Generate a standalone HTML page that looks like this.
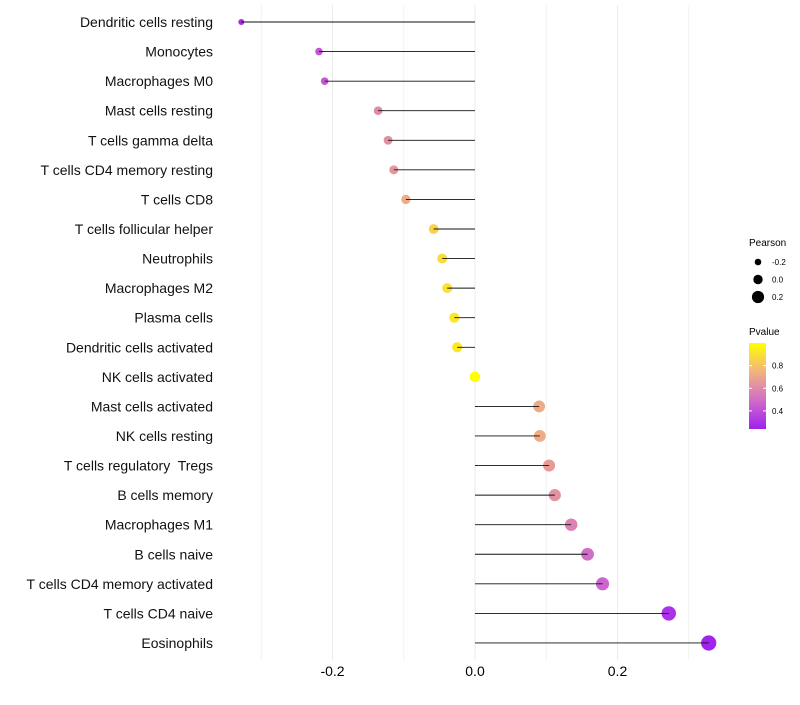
<!DOCTYPE html>
<html><head><meta charset="utf-8"><style>
body{margin:0;background:#fff;font-family:"Liberation Sans",sans-serif}
text{white-space:pre}
</style></head><body>
<svg id="c" width="800" height="700" xmlns="http://www.w3.org/2000/svg"></svg>
<script>
const categories=["Dendritic cells resting","Monocytes","Macrophages M0","Mast cells resting","T cells gamma delta","T cells CD4 memory resting","T cells CD8","T cells follicular helper","Neutrophils","Macrophages M2","Plasma cells","Dendritic cells activated","NK cells activated","Mast cells activated","NK cells resting","T cells regulatory  Tregs","B cells memory","Macrophages M1","B cells naive","T cells CD4 memory activated","T cells CD4 naive","Eosinophils"];
const pearson=[-0.328,-0.219,-0.211,-0.136,-0.122,-0.114,-0.097,-0.058,-0.046,-0.039,-0.029,-0.025,0,0.090,0.091,0.104,0.112,0.135,0.158,0.179,0.272,0.328];
const pvalues=[0.28,0.42,0.43,0.6,0.62,0.65,0.72,0.85,0.88,0.9,0.92,0.93,1.0,0.72,0.72,0.66,0.63,0.57,0.5,0.47,0.3,0.25];
const xTicks=[-0.2,0,0.2];
const xTickLabels=["-0.2","0.0","0.2"];
const gridVals=[-0.3,-0.1,0.1,0.3];
const sizeLegend=[-0.2,0,0.2];
const colorTicks=[0.8,0.6,0.4];

const svg=document.getElementById('c');const NS="http://www.w3.org/2000/svg";
function mk(t,a,p){const e=document.createElementNS(NS,t);for(const k in a)e.setAttribute(k,a[k]);(p||svg).appendChild(e);return e;}
const xs=v=>475+v*712.5;
const ys=i=>22+i*29.57;
const rs=v=>Math.max(1.8,5.3+7*v);
const stops=[[0.24,[160,32,240]],[0.5,[210,110,200]],[0.75,[242,180,125]],[1.0,[255,255,0]]];
function col(p){p=Math.max(0.24,Math.min(1,p));for(let i=0;i<stops.length-1;i++){const[a,ca]=stops[i],[b,cb]=stops[i+1];if(p<=b){const t=(p-a)/(b-a);return `rgb(${ca.map((c,j)=>Math.round(c+(cb[j]-c)*t)).join(',')})`;}}return 'rgb(255,255,0)';}
for(const g of gridVals){const l=mk('line',{x1:xs(g),x2:xs(g),y1:5,y2:660,stroke:'#f2f2f2','stroke-width':1});}
xTicks.forEach((v,i)=>{const l=mk('line',{x1:xs(v),x2:xs(v),y1:5,y2:660,stroke:'#ebebeb','stroke-width':1});
const t=mk('text',{x:xs(v),y:676,'text-anchor':'middle','font-size':14,fill:'#000'});t.textContent=xTickLabels[i];});
categories.forEach((c,i)=>{const y=ys(i);
const t=mk('text',{x:213,y:y+5,'text-anchor':'end','font-size':14,fill:'#111'});t.textContent=c;
const p=mk('circle',{cx:xs(pearson[i]),cy:y,r:rs(pearson[i]),fill:col(pvalues[i])});
const l=mk('line',{x1:xs(0),x2:xs(pearson[i]),y1:y,y2:y,stroke:'#111','stroke-width':0.9});});
let t=mk('text',{x:749,y:246,'font-size':10});t.textContent='Pearson';
sizeLegend.forEach((v,i)=>{const y=262+i*17.5;const c=mk('circle',{cx:758,cy:y,r:rs(v)-0.6,fill:'#000'});
const tt=mk('text',{x:772,y:y+3,'font-size':8});tt.textContent=v===0?'0.0':v.toFixed(1);});
t=mk('text',{x:749,y:335,'font-size':10});t.textContent='Pvalue';
const defs=mk('defs',{});const lg=mk('linearGradient',{id:'g',x1:0,y1:1,x2:0,y2:0},defs);
stops.forEach(s=>mk('stop',{offset:(s[0]-0.24)/0.76,'stop-color':`rgb(${s[1].join(',')})`},lg));
const cb=mk('rect',{x:749,y:343,width:17,height:86,fill:'url(#g)'});
const cy=p=>429-(p-0.24)/0.76*86;
colorTicks.forEach(v=>{mk('line',{x1:749,x2:752,y1:cy(v),y2:cy(v),stroke:'#fff'});mk('line',{x1:763,x2:766,y1:cy(v),y2:cy(v),stroke:'#fff'});
const tt=mk('text',{x:772,y:cy(v)+3,'font-size':8});tt.textContent=v.toFixed(1);});
</script>
</body></html>
